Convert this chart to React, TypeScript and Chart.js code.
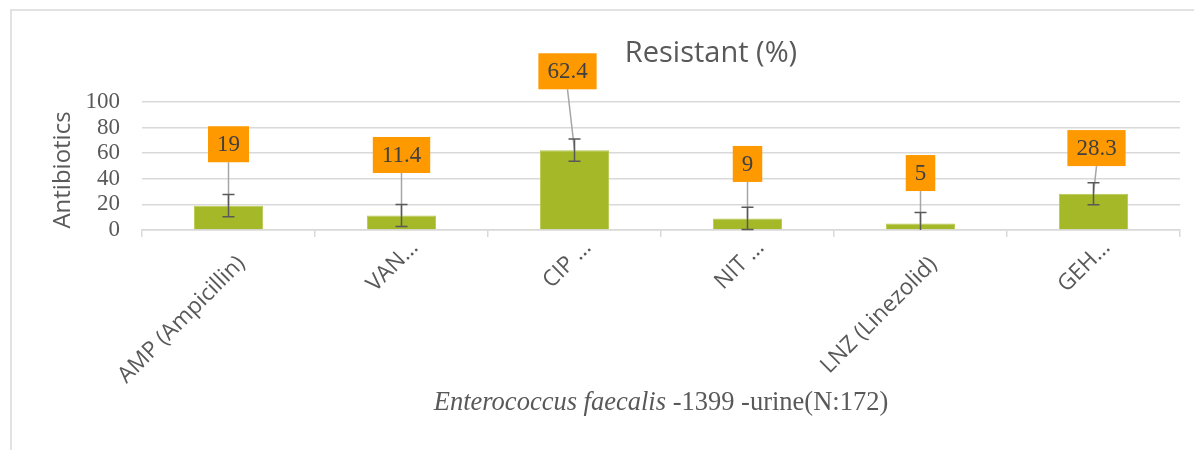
import React, { useEffect, useRef } from 'react';
import { Chart, registerables } from 'chart.js';

Chart.register(...registerables);

const categories = ['AMP (Ampicillin)', 'VAN…', 'CIP …', 'NIT …', 'LNZ (Linezolid)', 'GEH…'];
const resistant = [19, 11.4, 62.4, 9, 5, 28.3];
const errorMargin = [8.7, 8.6, 8.6, 8.7, 8.7, 8.6];
const calloutLevel = [67, 58.6, 124, 51.6, 44.5, 64];
const yTickValues = [0, 20, 40, 60, 80, 100];

const chartTitle = 'Resistant (%)';
const yTitle = 'Antibiotics';
const xTitleItalic = 'Enterococcus faecalis';
const xTitleRest = ' -1399 -urine(N:172)';

const SANS = '"Open Sans", "DejaVu Sans", sans-serif';
const SERIF = '"Liberation Serif", "DejaVu Serif", serif';
const TEXT = '#595959';

const decorPlugin = {
  id: 'decor',
  beforeDraw(chart: any) {
    const ctx = chart.ctx;
    ctx.save();
    ctx.strokeStyle = '#d9d9d9';
    ctx.lineWidth = 1.5;
    ctx.beginPath();
    ctx.moveTo(11, chart.height);
    ctx.lineTo(11, 10);
    ctx.lineTo(chart.width, 10);
    ctx.stroke();
    ctx.restore();
  },
  afterDraw(chart: any, _args: any, opts: any) {
    const ctx = chart.ctx;
    const area = chart.chartArea;
    const xs = chart.scales.x;
    ctx.save();
    ctx.fillStyle = TEXT;
    // rotated category labels
    const dy: number[] = opts.labelDrop || [];
    ctx.font = `22.5px ${SANS}`;
    ctx.textAlign = 'right';
    ctx.textBaseline = 'middle';
    categories.forEach((lab, i) => {
      const x = xs.getPixelForTick(i) + 13;
      const y = area.bottom + (dy[i] || 30);
      ctx.save();
      ctx.translate(x, y);
      ctx.rotate(-Math.PI / 4);
      ctx.fillText(lab, 0, 0);
      ctx.restore();
    });
    // chart title
    ctx.font = `29px ${SANS}`;
    ctx.textAlign = 'center';
    ctx.textBaseline = 'middle';
    ctx.fillText(chartTitle, 711, 54);
    // y title
    ctx.save();
    ctx.translate(63, 170);
    ctx.rotate(-Math.PI / 2);
    ctx.font = `24px ${SANS}`;
    ctx.fillText(yTitle, 0, 0);
    ctx.restore();
    // x title (mixed style)
    ctx.textAlign = 'left';
    ctx.font = `italic 26.5px ${SERIF}`;
    const w1 = ctx.measureText(xTitleItalic).width;
    ctx.font = `26.5px ${SERIF}`;
    const w2 = ctx.measureText(xTitleRest).width;
    const cx = (area.left + area.right) / 2;
    const x0 = cx - (w1 + w2) / 2;
    ctx.font = `italic 26.5px ${SERIF}`;
    ctx.fillText(xTitleItalic, x0, 403);
    ctx.font = `26.5px ${SERIF}`;
    ctx.fillText(xTitleRest, x0 + w1, 403);
    ctx.restore();
  },
};

const calloutPlugin = {
  id: 'callouts',
  afterDatasetsDraw(chart: any, _args: any, opts: any) {
    const ctx = chart.ctx;
    const meta = chart.getDatasetMeta(0);
    const ys = chart.scales.y;
    const area = chart.chartArea;
    const dx: number[] = opts.dx || [];
    ctx.save();
    ctx.font = `23px ${SERIF}`;
    const boxes = meta.data.map((bar: any, i: number) => {
      const txt = String(resistant[i]);
      const tw = ctx.measureText(txt).width;
      const w = tw + 18;
      const h = 36;
      const cx = bar.x + (dx[i] || 0);
      const cy = ys.getPixelForValue(calloutLevel[i]);
      return { txt, w, h, cx, cy, bx: bar.x, by: bar.y };
    });
    // leader lines
    ctx.strokeStyle = '#a6a6a6';
    ctx.lineWidth = 1.5;
    boxes.forEach((b: any) => {
      ctx.beginPath();
      ctx.moveTo(b.cx, b.cy + b.h / 2);
      ctx.lineTo(b.bx, b.by);
      ctx.stroke();
    });
    // error bars
    ctx.strokeStyle = '#595959';
    ctx.lineWidth = 1.5;
    meta.data.forEach((bar: any, i: number) => {
      const top = ys.getPixelForValue(resistant[i] + errorMargin[i]);
      const lowV = resistant[i] - errorMargin[i];
      const bot = Math.min(ys.getPixelForValue(lowV), area.bottom);
      ctx.beginPath();
      ctx.moveTo(bar.x, top);
      ctx.lineTo(bar.x, bot);
      ctx.moveTo(bar.x - 6, top);
      ctx.lineTo(bar.x + 6, top);
      if (lowV >= 0) {
        ctx.moveTo(bar.x - 6, bot);
        ctx.lineTo(bar.x + 6, bot);
      }
      ctx.stroke();
    });
    // boxes
    boxes.forEach((b: any) => {
      ctx.fillStyle = '#ff9900';
      ctx.fillRect(b.cx - b.w / 2, b.cy - b.h / 2, b.w, b.h);
      ctx.fillStyle = '#404040';
      ctx.textAlign = 'center';
      ctx.textBaseline = 'middle';
      ctx.fillText(b.txt, b.cx, b.cy + 1);
    });
    ctx.restore();
  },
};

export default function App() {
  const ref = useRef<HTMLCanvasElement>(null);
  useEffect(() => {
    if (!ref.current) return;
    const chart = new Chart(ref.current, {
      type: 'bar',
      data: {
        labels: categories,
        datasets: [
          {
            label: chartTitle,
            data: resistant,
            backgroundColor: '#a5b828',
            borderColor: '#b9c94f',
            borderWidth: 1,
            barPercentage: 0.4,
            categoryPercentage: 1,
          },
        ],
      },
      options: {
        animation: false,
        responsive: false,
        maintainAspectRatio: false,
        layout: { padding: { top: 102, right: 14, left: 0, bottom: 0 } },
        plugins: {
          legend: { display: false },
          tooltip: { enabled: false },
          title: { display: false },
          callouts: { dx: [0, 0, -7, 0, 0, 3] },
          decor: { labelDrop: [30, 14, 14, 14, 31, 14] },
        } as any,
        scales: {
          x: {
            offset: true,
            grid: {
              offset: true,
              drawOnChartArea: false,
              drawTicks: true,
              tickLength: 7,
              color: '#d9d9d9',
              lineWidth: 1.5,
            },
            border: { display: true, color: '#d9d9d9', width: 1.5 },
            ticks: {
              display: false,
              autoSkip: false,
              maxRotation: 45,
              minRotation: 45,
            },
            afterFit: (s: any) => {
              s.height = 220;
            },
          },
          y: {
            min: 0,
            max: 100,
            afterBuildTicks: (s: any) => {
              s.ticks = yTickValues.map((v) => ({ value: v }));
            },
            grid: { color: '#d9d9d9', lineWidth: 1.5, drawTicks: false },
            border: { display: false },
            ticks: {
              autoSkip: false,
              color: TEXT,
              padding: 22,
              font: { family: SERIF, size: 23 },
            },
            afterFit: (s: any) => {
              s.width = 142;
            },
          },
        },
      },
      plugins: [decorPlugin, calloutPlugin],
    });
    return () => chart.destroy();
  }, []);
  return (
    <div style={{ position: 'fixed', left: 0, top: 0, width: 1194, height: 450, background: '#fff' }}>
      <canvas ref={ref} width={1194} height={450} style={{ display: 'block', width: 1194, height: 450 }} />
    </div>
  );
}
